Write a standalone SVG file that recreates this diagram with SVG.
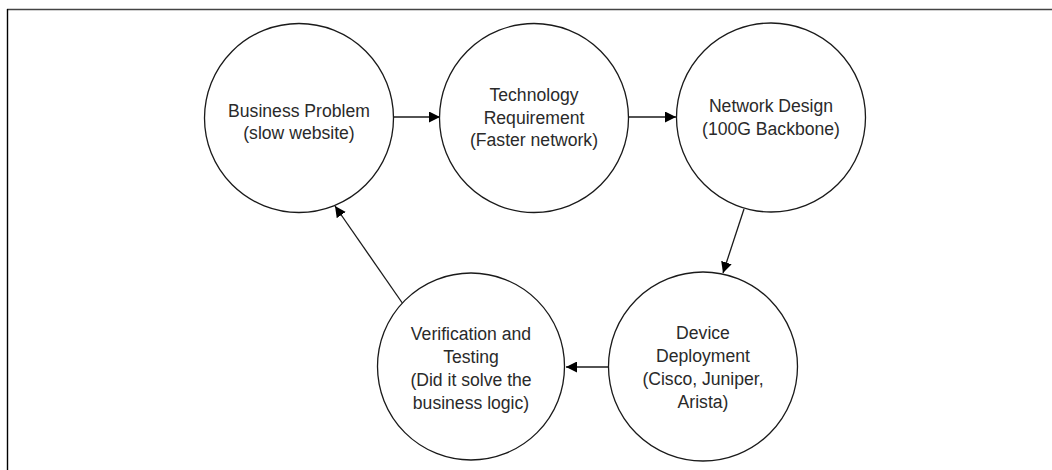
<svg xmlns="http://www.w3.org/2000/svg" width="1052" height="470" viewBox="0 0 1052 470">
<style>
.node circle{fill:#fff;stroke:#1a1a1a;stroke-width:1.3}
.node text{font-family:"Liberation Sans",Arial,sans-serif;font-size:17.6px;fill:#2a2a2a;text-anchor:middle}
.conn line{stroke:#1a1a1a;stroke-width:1.3;marker-end:url(#ah)}
</style>
<defs>
<marker id="ah" viewBox="0 0 10 10" refX="10" refY="5" markerWidth="11" markerHeight="11" markerUnits="userSpaceOnUse" orient="auto">
<path d="M0,0 L10,5 L0,10 z" fill="#000"/>
</marker>
</defs>
<rect width="1052" height="470" fill="#fff"/>
<g id="frame">
<line x1="7" y1="9.5" x2="1052" y2="9.5" stroke="#444" stroke-width="1.4"/>
<line x1="7.5" y1="9" x2="7.5" y2="470" stroke="#000" stroke-width="1.4"/>
</g>
<g class="conn" id="connectors">
<line x1="394" y1="117" x2="440" y2="117"/>
<line x1="628" y1="117" x2="676" y2="117"/>
<line x1="744" y1="209" x2="723" y2="273"/>
<line x1="609" y1="367" x2="566" y2="367"/>
<line x1="403" y1="304" x2="335" y2="206"/>
</g>
<g class="node" id="n-business">
<circle cx="299" cy="118" r="94.5"/>
<text x="299" y="117">Business Problem</text>
<text x="299" y="139">(slow website)</text>
</g>
<g class="node" id="n-tech">
<circle cx="534" cy="118" r="94.5"/>
<text x="534" y="101">Technology</text>
<text x="534" y="124">Requirement</text>
<text x="534" y="146">(Faster network)</text>
</g>
<g class="node" id="n-network">
<circle cx="771" cy="117.5" r="94.5"/>
<text x="771" y="112">Network Design</text>
<text x="771" y="135">(100G Backbone)</text>
</g>
<g class="node" id="n-device">
<circle cx="703" cy="366.5" r="94.5"/>
<text x="703" y="339">Device</text>
<text x="703" y="362">Deployment</text>
<text x="703" y="385">(Cisco, Juniper,</text>
<text x="703" y="408">Arista)</text>
</g>
<g class="node" id="n-verify">
<circle cx="471" cy="366.5" r="93.5"/>
<text x="471" y="340">Verification and</text>
<text x="471" y="363">Testing</text>
<text x="471" y="386">(Did it solve the</text>
<text x="471" y="409">business logic)</text>
</g>
</svg>
